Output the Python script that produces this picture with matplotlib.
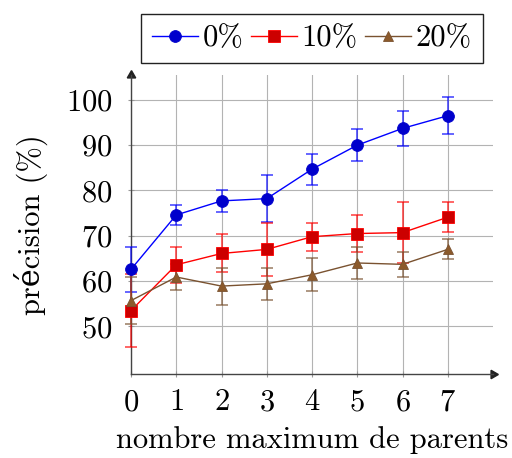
import matplotlib
matplotlib.use("Agg")
import matplotlib.pyplot as plt

plt.rcParams['font.family'] = ['cmr10', 'DejaVu Serif']
plt.rcParams['mathtext.fontset'] = 'cm'
plt.rcParams['axes.formatter.use_mathtext'] = True

parents = [0, 1, 2, 3, 4, 5, 6, 7]

prec_0 = [62.6, 74.6, 77.7, 78.2, 84.7, 90.0, 93.7, 96.5]
err_0 = [5.0, 2.2, 2.5, 5.2, 3.4, 3.6, 3.9, 4.1]

prec_10 = [53.5, 63.6, 66.1, 67.0, 69.8, 70.5, 70.7, 74.1]
err_10 = [8.0, 4.0, 4.2, 5.8, 3.1, 4.1, 6.8, 3.3]

prec_20 = [55.7, 60.9, 58.9, 59.4, 61.4, 64.0, 63.7, 67.0]
err_20 = [5.2, 2.8, 4.1, 3.5, 3.6, 3.6, 2.7, 2.2]

yticks = [50, 60, 70, 80, 90, 100]

fig = plt.figure(figsize=(5.12, 4.58), dpi=100)
ax = fig.add_axes([0.2559, 0.1834, 0.707, 0.653])

series = [
    (prec_0, err_0, '0%', 'o', '#0000ff', '#0000cc', 8.5),
    (prec_10, err_10, '10%', 's', '#ff0000', '#cc0000', 8.0),
    (prec_20, err_20, '20%', '^', '#7a5230', '#8c5a2b', 7.5),
]
for vals, errs, label, marker, lc, fc, ms in series:
    ax.errorbar(parents, vals, yerr=errs, fmt='none', ecolor=lc, alpha=0.7,
                elinewidth=1.2, capsize=4, capthick=1.2, clip_on=False, zorder=3)
    ax.plot(parents, vals, color=lc, lw=1.0, marker=marker, ms=ms,
            mfc=fc, mec=lc if marker != 'o' else fc, mew=0.6,
            label=label, clip_on=False, zorder=4)

ax.set_xlim(0, 8)
ax.set_ylim(39.5, 105.5)
ax.set_xticks(parents)
ax.set_yticks(yticks)
ax.grid(True, color='#b3b3b3', lw=0.8)
ax.set_axisbelow(True)
ax.tick_params(labelsize=22, length=5, direction='inout', color='#999999')
ax.tick_params(axis='x', pad=8)
ax.tick_params(axis='y', pad=11)

for side in ['top', 'right']:
    ax.spines[side].set_visible(False)
for side in ['left', 'bottom']:
    ax.spines[side].set_color('#444444')
    ax.spines[side].set_linewidth(1.0)

# axis arrows
ax.plot(1, 0, marker=(3, 0, -90), color='#222222', ms=7, transform=ax.transAxes, clip_on=False)
ax.plot(0, 1, marker=(3, 0, 0), color='#222222', ms=7, transform=ax.transAxes, clip_on=False)

ax.set_xlabel('nombre maximum de parents', fontsize=22, labelpad=7)
ax.set_ylabel('précision (%)', fontsize=22, labelpad=13)

ax.legend(loc='lower center', bbox_to_anchor=(0.5, 1.04), ncol=3, fontsize=22,
          frameon=True, fancybox=False, edgecolor='#222222', framealpha=1,
          handlelength=1.5, handletextpad=0.15, columnspacing=0.25,
          borderpad=0.35, borderaxespad=0)

fig.savefig('out.png', dpi=100)
